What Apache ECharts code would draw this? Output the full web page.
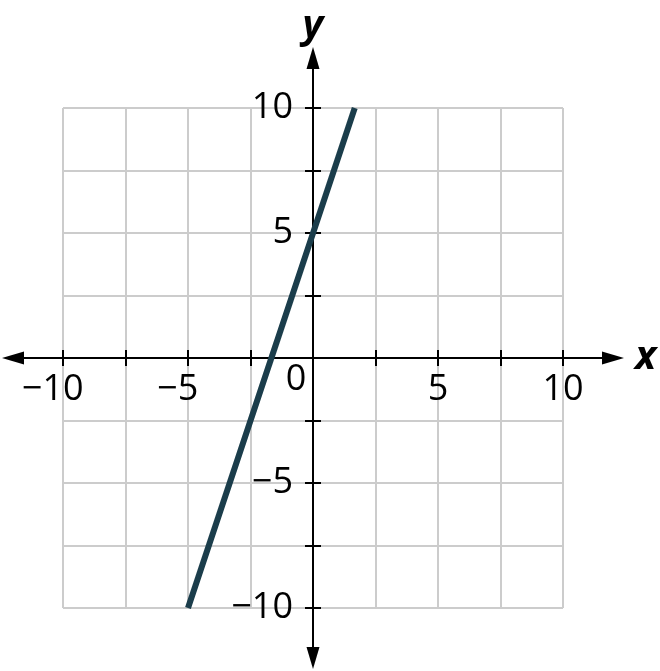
<!DOCTYPE html>
<html>
<head>
<meta charset="utf-8">
<script src="https://cdn.jsdelivr.net/npm/echarts@6/dist/echarts.min.js"></script>
<style>
	html, body { margin: 0; padding: 0; background: #fff; }
	#main { width: 660px; height: 671px; }
</style>
</head>
<body>
<div id="main"></div>
<script>
// line y = 3x + 5, drawn between its two end points
var lineX = [-5, 1.67];
var lineY = [-10, 10];

var tickValues = [-10, -7.5, -5, -2.5, 0, 2.5, 5, 7.5, 10];
var xLabelValues = [-10, -5, 0, 5, 10];
var yLabelValues = [-10, -5, 5, 10];

var fontName = 'Open Sans';
var black = '#000000';

// outer grid is 600px (-12..12), axes sit in its middle
var mid = -300;

var lineData = [];
for (var i = 0; i < lineX.length; i++) {
	lineData.push([lineX[i], lineY[i]]);
}

// minus sign hangs to the left, digits stay centred on the tick
function numLabel(v) {
	if (v == 0) return '{z|0}';
	if (v < 0) return '\u2212' + Math.abs(v) + '{h|\u2212}';
	return '' + v;
}

var myChart = echarts.init(document.getElementById('main'));

var option = {
	animation: false,
	grid: [
		// gray box -10..10
		{ left: 63, top: 108, width: 500, height: 500, outerBoundsMode: 'none', containLabel: false },
		// axes with arrow heads, -12..12
		{ left: 13, top: 58, width: 600, height: 600, outerBoundsMode: 'none', containLabel: false }
	],
	xAxis: [
		{
			gridIndex: 0, type: 'value', min: -10, max: 10, interval: 2.5,
			axisLine: { show: false }, axisTick: { show: false }, axisLabel: { show: false },
			splitLine: { show: true, lineStyle: { color: '#cccccc', width: 2 } }
		},
		{
			gridIndex: 1, type: 'value', min: -12, max: 12,
			position: 'bottom', offset: mid,
			name: 'x', nameLocation: 'end', nameGap: 22,
			nameTextStyle: { fontFamily: fontName, fontSize: 40, fontWeight: 'bold', fontStyle: 'italic', color: black },
			axisLine: { show: true, onZero: false, symbol: ['triangle', 'triangle'], symbolSize: [13, 22],
				lineStyle: { color: black, width: 2 } },
			axisTick: { show: true, customValues: tickValues, length: 8, lineStyle: { color: black, width: 2 } },
			axisLabel: {
				show: true, customValues: xLabelValues, margin: 14,
				fontFamily: fontName, fontSize: 36, color: black,
				formatter: numLabel,
				rich: {
					h: { fontFamily: fontName, fontSize: 36, color: 'rgba(0,0,0,0)' },
					z: { fontFamily: fontName, fontSize: 36, color: black, lineHeight: 16, padding: [0, 34, 0, 0] }
				}
			},
			splitLine: { show: false }
		},
		{
			gridIndex: 1, type: 'value', min: -12, max: 12,
			position: 'top', offset: mid,
			axisLine: { show: false, onZero: false },
			axisTick: { show: true, customValues: tickValues, length: 8, lineStyle: { color: black, width: 2 } },
			axisLabel: { show: false },
			splitLine: { show: false }
		}
	],
	yAxis: [
		{
			gridIndex: 0, type: 'value', min: -10, max: 10, interval: 2.5,
			axisLine: { show: false }, axisTick: { show: false }, axisLabel: { show: false },
			splitLine: { show: true, lineStyle: { color: '#cccccc', width: 2 } }
		},
		{
			gridIndex: 1, type: 'value', min: -12, max: 12,
			position: 'left', offset: mid,
			name: 'y', nameLocation: 'end', nameGap: 11,
			nameTextStyle: { fontFamily: fontName, fontSize: 40, fontWeight: 'bold', fontStyle: 'italic', color: black },
			axisLine: { show: true, onZero: false, symbol: ['triangle', 'triangle'], symbolSize: [13, 22],
				lineStyle: { color: black, width: 2 } },
			axisTick: { show: true, customValues: tickValues, length: 8, lineStyle: { color: black, width: 2 } },
			axisLabel: {
				show: true, customValues: yLabelValues, margin: 20,
				fontFamily: fontName, fontSize: 36, color: black,
				formatter: function (v) {
					return v < 0 ? '\u2212' + Math.abs(v) : '' + v;
				}
			},
			splitLine: { show: false }
		},
		{
			gridIndex: 1, type: 'value', min: -12, max: 12,
			position: 'right', offset: mid,
			axisLine: { show: false, onZero: false },
			axisTick: { show: true, customValues: tickValues, length: 8, lineStyle: { color: black, width: 2 } },
			axisLabel: { show: false },
			splitLine: { show: false }
		}
	],
	series: [
		{
			type: 'line',
			xAxisIndex: 1,
			yAxisIndex: 1,
			data: lineData,
			showSymbol: false,
			symbol: 'none',
			lineStyle: { color: '#1b3d4b', width: 6, cap: 'butt' },
			z: 5
		}
	]
};
myChart.setOption(option);
</script>
</body>
</html>
